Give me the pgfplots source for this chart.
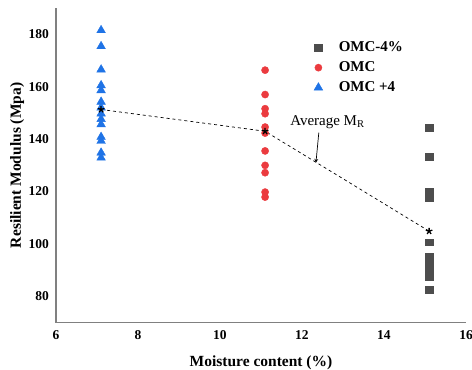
\documentclass[border=0pt]{standalone}
\usepackage{fontspec}
\setmainfont{Liberation Serif}
\usepackage{pgfplots}
\pgfplotsset{compat=1.18}
\definecolor{sqgrey}{HTML}{4D4D4D}
\definecolor{cred}{HTML}{EB3B3F}
\definecolor{tblue}{HTML}{1F73E6}
\definecolor{axgrey}{HTML}{808080}
\begin{document}
\begin{tikzpicture}
\begin{axis}[
  name=ax,
  scale only axis,
  width=410pt, height=314.7pt,
  xmin=6, xmax=16, ymin=70, ymax=190,
  xtick={6,8,...,16}, ytick={80,100,...,180},
  axis x line*=bottom, axis y line*=left,
  axis line style={axgrey, line width=1.1pt, -},
  major tick length=0pt,
  /pgf/number format/assume math mode=true,
  tick label style={font=\bfseries\fontsize{13.5}{15}\selectfont, inner sep=0pt},
  xticklabel style={anchor=base, yshift=-16.8pt},
  yticklabel style={anchor=east, xshift=-7pt},
  xlabel={\bfseries Moisture content (\%)},
  ylabel={\bfseries Resilient Modulus (Mpa)},
  label style={font=\bfseries\fontsize{15.5}{18}\selectfont},
  xlabel style={at={(axis description cs:0.5,-0.1376)}, anchor=base},
  ylabel style={at={(axis description cs:-0.095,0.5)}, anchor=center},
  legend style={draw=none, fill=none, at={(axis description cs:0.629,0.899)}, anchor=north west,
    font=\bfseries\fontsize{15}{17}\selectfont, row sep=4.5pt, column sep=14pt,
    inner sep=0pt, nodes={inner sep=2pt}},
  legend cell align=left,
]
% OMC-4%
\addplot[only marks, mark=square*, mark size=3.4pt, color=sqgrey,
  mark options={xscale=1.15}] coordinates {
  (15.1,144.4) (15.1,133.3) (15.1,120.1) (15.1,117.8)
  (15.1,100.7) (15.1,95.3) (15.1,93.4) (15.1,91.5) (15.1,89.5) (15.1,87.6) (15.1,82.5)
};
\addlegendentry{OMC-4\%}
% OMC
\addplot[only marks, mark=*, mark size=3.6pt, color=cred] coordinates {
  (11.1,166.3) (11.1,157.0) (11.1,151.6) (11.1,149.7) (11.1,144.6) (11.1,142.3)
  (11.1,135.5) (11.1,130.0) (11.1,127.2) (11.1,119.8) (11.1,117.9)
};
\addlegendentry{OMC}
% OMC +4
\addplot[only marks, mark=triangle*, mark size=5pt, color=tblue] coordinates {
  (7.1,181.5) (7.1,175.4) (7.1,166.5) (7.1,160.5) (7.1,158.6) (7.1,154.2)
  (7.1,152.0) (7.1,149.7) (7.1,147.6) (7.1,145.6) (7.1,140.8) (7.1,139.3)
  (7.1,134.8) (7.1,132.9)
};
\addlegendentry{OMC +4}
% average resilient modulus
\addplot[forget plot, black, dashed, line width=0.7pt, mark=star, mark size=3.4pt,
  mark options={solid, fill=black, line width=1.3pt}] coordinates {
  (7.1,151.3) (11.1,143.0) (15.1,104.9)
};
\node[font=\fontsize{15}{17}\selectfont, anchor=base west, inner sep=0pt]
  at (axis cs:11.71,145.3) {Average M\textsubscript{R}};
\draw[-stealth, black, line width=0.7pt] (axis cs:12.41,142.5) -- (axis cs:12.34,131);
\end{axis}
\pgfresetboundingbox
\path[use as bounding box] ([shift={(-56pt,-47.3pt)}]ax.south west)
  rectangle ([shift={(6pt,8pt)}]ax.north east);
\end{tikzpicture}
\end{document}
